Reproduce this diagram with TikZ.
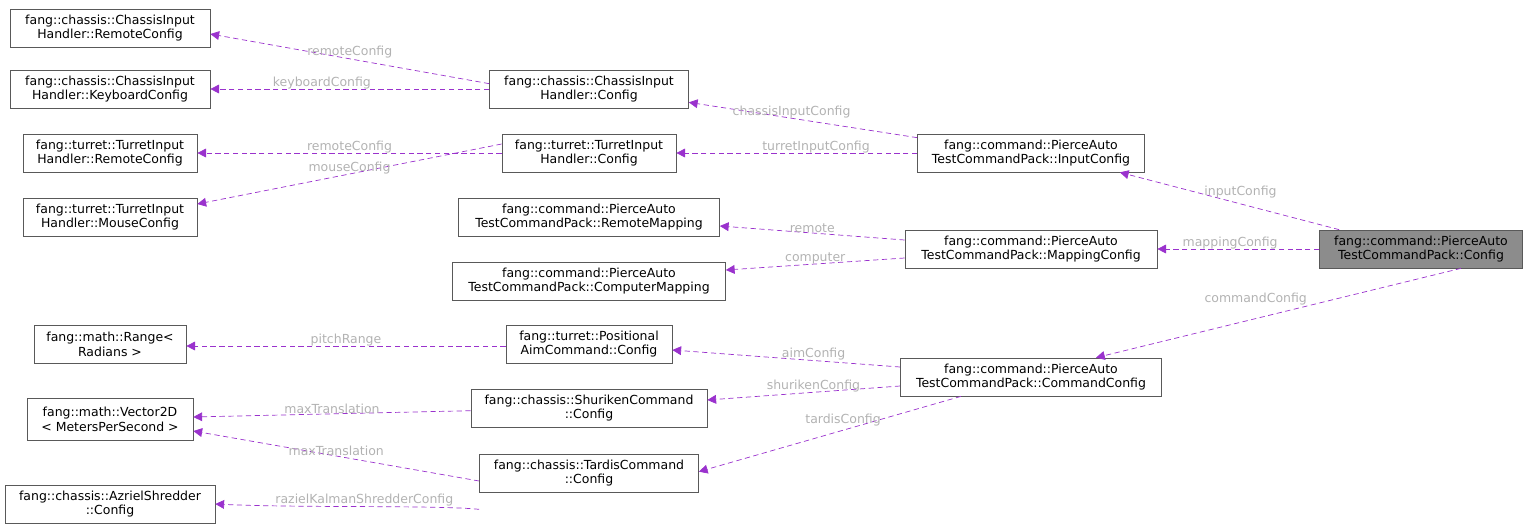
\documentclass[tikz,border=0pt]{standalone}
\usepackage{fontspec}
\setmainfont{DejaVu Sans}
\usetikzlibrary{arrows.meta, calc, positioning}
\tikzstyle{cls} = [rectangle, draw=black!65, fill=white, align=center, inner sep=1pt, minimum height=0.76cm, font=\fontsize{7.1pt}{8.4pt}\selectfont]
\tikzstyle{main} = [cls, fill=black!45]
\tikzstyle{dep} = [densely dashed, draw={rgb,255:red,154;green,50;blue,205}, thin, -{Triangle[length=5pt,width=5pt,fill={rgb,255:red,154;green,50;blue,205}]}]
\tikzstyle{lbl} = [text=black!30, font=\fontsize{7.1pt}{8pt}\selectfont, inner sep=1pt]

\begin{document}
\begin{tikzpicture}[x=0.02cm, y=-0.02cm]
		\useasboundingbox (0,0) rectangle (1529,525);
		\node (CIRemote) [cls, minimum width=4cm] at (110,28) {fang::chassis::ChassisInput\\Handler::RemoteConfig};
		\node (CIKeyboard) [cls, minimum width=4cm] at (110,89) {fang::chassis::ChassisInput\\Handler::KeyboardConfig};
		\node (CIConfig) [cls, minimum width=3.98cm] at (589,89) {fang::chassis::ChassisInput\\Handler::Config};
		\node (TIRemote) [cls, minimum width=3.48cm] at (110,153) {fang::turret::TurretInput\\Handler::RemoteConfig};
		\node (TIConfig) [cls, minimum width=3.48cm] at (589,153) {fang::turret::TurretInput\\Handler::Config};
		\node (TIMouse) [cls, minimum width=3.48cm] at (110,217) {fang::turret::TurretInput\\Handler::MouseConfig};
		\node (InputConfig) [cls, minimum width=4.54cm] at (1031,153) {fang::command::PierceAuto\\TestCommandPack::InputConfig};
		\node (RemoteMapping) [cls, minimum width=5.22cm] at (589,217) {fang::command::PierceAuto\\TestCommandPack::RemoteMapping};
		\node (MappingConfig) [cls, minimum width=5.04cm] at (1031,249) {fang::command::PierceAuto\\TestCommandPack::MappingConfig};
		\node (Config) [main, minimum width=4.06cm] at (1421,249) {fang::command::PierceAuto\\TestCommandPack::Config};
		\node (ComputerMapping) [cls, minimum width=5.46cm] at (589,281) {fang::command::PierceAuto\\TestCommandPack::ComputerMapping};
		\node (Range) [cls, minimum width=3.04cm] at (110,344) {fang::math::Range<\\ Radians >};
		\node (PosAim) [cls, minimum width=3.32cm] at (589,344) {fang::turret::Positional\\AimCommand::Config};
		\node (CommandConfig) [cls, minimum width=5.22cm] at (1031,377) {fang::command::PierceAuto\\TestCommandPack::CommandConfig};
		\node (Shuriken) [cls, minimum width=4.72cm] at (589,408) {fang::chassis::ShurikenCommand\\::Config};
		\node (Vector) [cls, minimum width=3.32cm, minimum height=0.84cm] at (110,419) {fang::math::Vector2D\\< MetersPerSecond >};
		\node (Tardis) [cls, minimum width=4.38cm] at (589,473) {fang::chassis::TardisCommand\\::Config};
		\node (Azriel) [cls, minimum width=4.2cm] at (110,504) {fang::chassis::AzrielShredder\\::Config};

		\draw [dep] ([yshift=-0.28cm]CIConfig.north west) -- node[lbl, pos=0.5, above=-1pt]{remoteConfig} ([yshift=-0.12cm]CIRemote.east);
		\draw [dep] (CIConfig) -- node[lbl, pos=0.6, above=-1pt]{keyboardConfig} (CIKeyboard);
		\draw [dep] ([yshift=-0.08cm]InputConfig.north west) -- node[lbl, pos=0.55, above=-1pt]{chassisInputConfig} ([yshift=0.12cm]CIConfig.south east);
		\draw [dep] (InputConfig) -- node[lbl, pos=0.42, above=-1pt]{turretInputConfig} (TIConfig);
		\draw [dep] (TIConfig) -- node[lbl, pos=0.5, above=-1pt]{remoteConfig} (TIRemote);
		\draw [dep] ([yshift=0.18cm]TIConfig.west) -- node[lbl, pos=0.5, above=-1pt]{mouseConfig} ([yshift=0.26cm]TIMouse.east);
		\draw [dep] ([xshift=0.4cm]Config.north west) -- node[lbl, pos=0.45, above=2pt]{inputConfig} ([xshift=-0.5cm]InputConfig.south east);
		\draw [dep] (Config) -- node[lbl, pos=0.55, above=-1pt]{mappingConfig} (MappingConfig);
		\draw [dep] ([yshift=0.18cm]MappingConfig.west) -- node[lbl, pos=0.5, above=-1pt]{remote} ([yshift=-0.18cm]RemoteMapping.east);
		\draw [dep] ([yshift=-0.18cm]MappingConfig.west) -- node[lbl, pos=0.5, above=-1pt]{computer} ([yshift=0.22cm]ComputerMapping.east);
		\draw [dep] ([xshift=0.8cm]Config.south) -- node[lbl, pos=0.42, above left=-1pt]{commandConfig} ([xshift=1.3cm]CommandConfig.north);
		\draw [dep] ([yshift=0.2cm]CommandConfig.west) -- node[lbl, pos=0.38, above=-1pt]{aimConfig} ([yshift=-0.12cm]PosAim.east);
		\draw [dep] ([yshift=-0.18cm]CommandConfig.west) -- node[lbl, pos=0.45, above=-1pt]{shurikenConfig} ([yshift=0.16cm]Shuriken.east);
		\draw [dep] ([xshift=-1.4cm]CommandConfig.south) -- node[lbl, pos=0.45, above=1pt]{tardisConfig} ([yshift=-0.36cm]Tardis.north east);
		\draw [dep] ([yshift=-0.04cm]PosAim.west) -- node[lbl, pos=0.5, above=-1pt]{pitchRange} ([yshift=-0.04cm]Range.east);
		\draw [dep] (Shuriken) -- node[lbl, pos=0.5, above=-1pt]{maxTranslation} ([yshift=0.04cm]Vector.east);
		\draw [dep] ([yshift=-0.16cm]Tardis.west) -- node[lbl, pos=0.5, above=-1pt]{maxTranslation} ([yshift=-0.24cm]Vector.east);
		\draw [dep] ([yshift=-0.34cm]Tardis.south west) .. controls (440,505) and (300,508) .. node[lbl, pos=0.5, above=-1pt]{razielKalmanShredderConfig} (Azriel.east);
\end{tikzpicture}
\end{document}
